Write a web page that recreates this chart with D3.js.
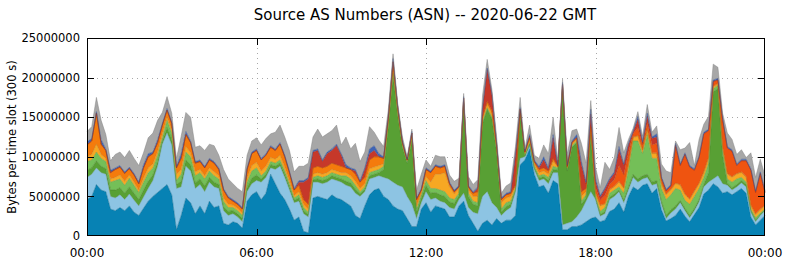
<!DOCTYPE html>
<html><head><meta charset="utf-8">
<script src="https://cdn.jsdelivr.net/npm/d3@7/dist/d3.min.js"></script>
<style>html,body{margin:0;padding:0;background:#fff;}svg{display:block;}</style>
</head><body>
<script>
// sample times (minutes since 00:00 GMT), one every 10 minutes
const times = d3.range(0, 1441, 10);
const xTickLabels = ["00:00","06:00","12:00","18:00","00:00"];
const yTicks = [0, 5000000, 10000000, 15000000, 20000000, 25000000];
const title = "Source AS Numbers (ASN) -- 2020-06-22 GMT";
const yLabel = "Bytes per time slot (300 s)";

// series values in millions of bytes per 300 s slot
const s1 = [4.6,5.0,6.5,5.8,5.6,3.4,3.2,3.6,3.2,3.8, 3.0,2.6,3.5,4.4,5.0,5.5,6.0,6.5,5.2,0.8, 2.6,4.8,4.2,2.8,3.8,2.8,4.4,3.6,3.8,1.6, 1.4,1.8,1.6,1.0,4.4,5.2,5.6,4.6,5.4,7.8, 6.6,5.4,4.6,3.4,2.0,2.4,0.6,0.4,4.8,5.0, 4.8,4.6,5.2,4.8,4.6,4.2,3.8,2.6,2.2,3.8, 5.2,5.8,6.0,5.0,4.6,3.8,3.4,3.2,2.2,1.2, 1.2,3.4,4.2,3.0,3.8,3.6,3.4,2.4,2.4,3.8, 4.4,2.6,1.6,0.6,1.6,2.0,1.4,2.2,1.6,2.0, 2.0,2.6,9.0,9.6,11.0,7.8,6.2,6.4,5.4,7.0, 6.6,0.8,0.8,1.2,1.2,1.4,1.8,2.2,2.4,1.8, 2.0,3.1,3.4,4.2,3.0,5.0,6.2,5.8,6.4,6.6, 5.4,6.0,3.3,1.9,2.2,2.6,3.4,2.5,1.8,2.7, 3.6,5.3,5.8,6.6,6.2,5.4,5.6,5.2,5.6,6.0, 5.4,2.4,1.4,2.0,2.6];
const s2 = [2.8,2.8,2.1,2.2,2.2,1.6,1.6,1.6,1.4,1.5, 1.5,1.2,1.4,1.6,2.0,3.3,5.6,6.5,6.3,5.2, 3.6,4.0,4.0,3.2,2.7,2.8,2.4,2.6,2.2,1.6, 1.2,1.0,0.8,0.8,1.2,1.4,1.4,2.2,2.0,0.8, 1.8,3.4,2.8,2.4,2.2,2.0,2.2,2.0,2.0,1.8, 1.8,2.2,2.0,2.2,2.2,2.2,2.4,2.8,2.8,1.8, 2.0,1.6,1.6,2.4,2.6,3.0,3.0,3.0,2.8,2.8, 1.0,0.8,1.4,1.6,1.0,0.8,0.8,1.2,1.0,0.8, 1.0,1.0,1.4,2.2,3.4,3.6,2.8,1.4,1.0,1.2, 1.6,3.0,0.8,0.4,0.4,0.6,0.8,0.8,1.2,1.0, 1.4,0.6,0.8,0.6,1.2,1.8,2.6,3.4,2.2,0.7, 0.8,1.5,1.6,1.4,1.2,0.8,1.2,1.0,0.8,0.8, 1.0,0.6,0.7,0.3,0.7,0.8,0.8,0.7,0.5,0.5, 0.7,0.9,1.0,0.6,1.4,1.2,0.8,0.6,0.6,0.7, 0.8,0.6,0.4,0.6,0.6];
const s3 = [0.9,0.8,0.9,0.8,0.7,0.8,1.0,0.9,0.8,0.9, 0.9,0.8,0.9,0.9,0.7,0.6,0.4,0.7,0.7,0.5, 0.7,0.8,0.8,0.7,0.7,0.7,0.6,0.6,0.5,0.5, 0.5,0.4,0.4,0.4,0.5,0.7,0.7,0.4,0.4,0.4, 0.4,0.4,0.4,0.4,0.3,0.4,0.4,0.3,0.3,0.4, 0.4,0.4,0.4,0.4,0.4,0.5,0.5,0.5,0.3,0.3, 0.4,0.4,0.4,1.0,6.6,13.6,8.8,5.0,4.2,8.0, 0.8,0.6,0.8,0.8,0.7,0.8,0.8,0.7,0.7,0.5, 11.2,1.4,1.0,1.0,9.2,10.4,10.6,7.0,0.4,0.5, 0.4,0.2,5.6,0.1,0.2,0.2,0.3,0.3,0.4,0.4, 0.3,17.0,6.6,9.4,9.4,0.8,0.4,7.2,0.2,0.2, 0.3,0.3,0.3,0.2,0.3,0.4,0.4,0.4,0.4,0.4, 0.4,0.4,0.4,0.4,0.4,0.4,0.3,0.3,0.3,0.3, 0.3,0.3,1.2,11.0,11.0,3.6,0.3,0.3,0.3,0.3, 0.3,0.2,0.2,0.1,0.1];
const s4 = [1.1,1.0,1.1,1.0,0.9,1.0,1.2,1.1,1.0,1.1, 1.0,0.9,1.0,1.1,0.9,0.8,0.4,0.9,0.8,0.5, 0.9,1.0,1.0,0.9,0.8,0.9,0.8,0.8,0.7,0.7, 0.5,0.4,0.4,0.4,0.7,0.9,0.9,0.4,0.4,0.4, 0.4,0.4,0.4,0.4,0.3,0.4,0.4,0.3,0.3,0.4, 0.4,0.4,0.4,0.4,0.4,0.7,0.5,0.5,0.3,0.3, 0.4,0.4,0.4,0.4,0.2,0.2,0.2,0.2,0.2,0.2, 0.4,0.4,0.6,0.6,0.5,0.6,0.6,0.5,0.5,0.3, 0.2,0.4,0.4,0.4,0.2,0.2,0.2,0.2,0.4,0.5, 0.4,0.2,0.2,0.1,0.2,0.2,0.3,0.3,0.4,0.4, 0.3,0.2,0.2,0.2,0.2,0.4,0.4,0.2,0.2,0.4, 0.5,0.5,0.5,0.4,0.9,2.2,4.2,4.8,2.8,5.0, 3.0,2.8,1.6,2.0,1.9,2.2,1.3,1.0,1.4,1.5, 1.4,0.9,1.2,0.4,0.4,0.6,0.5,0.7,0.7,0.4, 0.3,0.2,0.3,0.2,0.1];
const s5 = [0.6,0.7,1.0,0.5,0.4,0.4,0.4,0.5,0.5,0.4, 0.4,0.3,0.5,0.6,0.5,0.5,0.5,0.4,0.4,0.8, 0.6,0.7,0.5,0.5,0.4,0.4,0.4,0.5,0.4,0.4, 0.4,0.3,0.3,0.3,0.5,0.7,0.7,0.6,0.6,0.5, 0.5,0.6,0.5,0.4,0.3,0.4,0.4,0.4,0.4,0.4, 0.4,0.4,0.4,0.4,0.4,0.4,0.4,0.5,0.4,0.4, 0.5,0.5,0.5,0.3,0.3,0.3,0.2,0.1,0.1,0.2, 0.4,0.2,0.5,0.8,1.8,2.0,2.4,1.4,0.7,0.6, 0.2,0.4,0.6,0.8,0.4,0.4,0.4,0.4,0.8,0.6, 0.6,0.2,0.2,0.2,0.4,0.3,0.4,0.4,0.4,0.6, 0.1,0.3,0.2,0.2,0.2,0.6,0.4,0.4,0.4,0.7, 0.4,0.4,0.4,0.6,0.6,0.6,0.4,0.6,0.4,0.6, 0.6,0.6,0.6,0.6,0.6,0.6,0.6,0.7,0.6,0.6, 0.6,0.6,0.6,0.2,0.2,0.4,0.6,0.6,0.6,0.6, 0.6,0.4,0.4,0.4,0.4];
const s6 = [1.5,1.7,3.9,1.3,1.0,0.8,1.0,1.0,1.0,0.8, 0.9,0.8,1.3,1.4,1.3,1.1,1.1,0.9,0.8,0.8, 1.4,1.5,1.3,1.1,1.0,1.0,1.0,1.1,0.8,1.0, 0.8,0.5,0.5,0.5,1.1,1.5,1.5,1.4,1.4,1.3, 1.1,1.4,1.3,1.0,0.7,0.8,0.6,0.6,0.8,0.8, 0.8,0.8,0.8,0.8,0.8,0.6,0.8,0.9,0.8,0.8, 1.1,1.3,1.1,0.7,0.7,1.1,0.6,0.3,0.1,0.6, 0.8,0.4,0.9,1.2,1.0,0.8,0.8,0.4,0.3,0.2, 0.4,0.4,0.4,0.6,0.2,0.4,0.4,0.2,0.4,0.4, 0.4,0.2,0.2,0.2,0.2,0.3,0.4,0.4,0.4,0.4, 0.1,0.3,0.2,0.2,0.2,0.6,0.4,0.4,0.1,0.1, 0.1,0.1,0.1,0.1,0.1,0.1,0.1,0.1,0.1,0.1, 0.1,0.1,0.1,0.1,0.1,0.1,0.1,0.1,0.1,0.1, 0.1,0.1,0.1,0.1,0.1,0.1,0.1,0.1,0.1,0.1, 0.1,0.1,0.1,0.1,0.1];
const s7 = [0,0,0,0,0,0,0,0,0,0, 0,0,0,0,0,0,0,0,0,0, 0,0,0,0,0,0,0,0,0,0, 0,0,0,0,0,0,0,0,0,0, 0,0,0,0,0,0,0,0,0,0, 0,0,0,0,0,0,0,0,0,0, 0,0,0,0,0,0,0,0,0,0, 0,0,0,0,0,0,0,0,0,0, 0,0,0,0,0,0,0,0,0,0, 0,0,0,0,0,0,0,0,0,0, 0,0,0,0,0,0,0,0,0.6,0.6, 1.0,0.6,0.8,2.0,1.6,1.4,0.4,1.0,0.6,0.8, 1.0,1.2,0.6,0.4,0.4,4.6,2.4,5.0,4.0,2.6, 3.2,4.8,3.4,0.6,0.4,3.4,3.2,3.2,1.0,1.4, 2.0,4.4,2.7,4.5,1.6];
const s8 = [0,0,0,0,0,0,0,0,0,0, 0,0,0,0,0,0,0,0,0,0, 0,0,0,0,0,0,0,0,0,0, 0,0,0,0,0,0,0,0,0,0, 0,0,0,0,0,0.4,2.2,3.2,2.0,2.0, 0.8,1.6,1.6,2.4,1.4,0,0,0.4,0,1.0, 0.8,0.8,0,0,0,0,0,0,0,0, 0,0,0,0,0,0,0,0,0,0, 0,0,0,0.4,1.0,4.0,2.0,0.2,0,0, 0,3.8,0,0,0.2,0,0.2,1.0,0.2,2.6, 0,0,0,0,0,3.4,0.6,1.6,0.8,0.4, 0.8,0.6,0.8,2.0,1.2,1.0,0.2,1.0,0.2,0.8, 0.8,0.8,0,0,0,0.2,0,0,0,0, 0,0,0,0,0,0,0,0,0,0, 0,0,0,0,0];
const s9 = [0.4,0.3,0.2,0.6,0.2,0.3,0.2,0.2,0.2,0.2, 0.2,0.2,0.4,0.4,0.2,0.4,0.2,0.2,0.2,0.2, 0.6,0.4,0.2,0.2,0.2,0.2,0.2,0.2,0.2,0.2, 0.2,0.2,0.2,0.2,0.2,0.2,0.2,0.2,0.2,0.2, 0.2,0.2,0.2,0.2,0.2,0.2,0.2,0.2,0.2,0.2, 0.2,0.2,0.2,0.2,0.2,0.4,0.2,0.2,0.2,0.2, 0.6,0.6,0.4,0.2,0.2,0.4,0.2,0.2,0.1,0.2, 0.2,0.2,0.2,0.2,0.2,0.2,0.2,0.2,0.2,0.2, 0.2,0.2,0.2,0.2,0.2,0.2,0.2,0.2,0.2,0.2, 0.2,0.2,0.2,0.2,0.2,0.2,0.2,0.4,0.2,0.4, 0.2,0.2,0.2,0.2,0.4,0.4,0.2,0.6,0.4,0.2, 0.2,0.2,0.2,0.4,0.2,0.2,0.2,0.4,0.2,0.4, 0.2,0.4,0.2,0.2,0.2,0.2,0.2,0.2,0.2,0.2, 0.2,0.2,0.2,0.2,0.2,0.2,0.2,0.2,0.2,0.2, 0.2,0.2,0.2,0.2,0.2];
const s10 = [1.3,1.5,1.8,2.4,1.8,1.2,1.7,1.7,1.8,2.1, 1.9,2.1,1.5,2.0,2.4,2.4,1.4,1.5,1.1,1.0, 2.2,2.4,3.0,1.8,1.8,2.0,1.8,2.0,1.6,2.4, 2.2,2.0,1.8,2.0,1.6,1.4,1.4,1.7,1.9,1.5, 2.1,2.2,2.3,2.6,2.1,1.8,1.8,1.8,1.7,2.5, 2.9,2.3,2.3,2.4,1.1,3.5,2.4,3.3,2.4,2.0, 2.8,1.7,1.7,1.3,0.8,0.6,0.3,0.5,0.3,0.3, 1.0,1.8,1.0,0.6,1.2,1.2,1.0,0.9,1.1,0.9, 0.4,1.1,0.9,0.9,1.5,1.1,0.5,0.7,0.6,0.9, 1.1,0.9,1.3,0.2,1.2,0.6,1.0,1.5,1.8,2.2, 0.6,0.4,1.4,1.3,0.7,2.3,2.4,1.1,1.4,1.0, 3.2,1.1,1.8,2.4,1.4,0.5,0.3,0.6,0.7,1.1, 0.6,1.0,1.6,2.3,1.5,0.3,1.8,0.6,2.9,0.4, 2.1,1.0,1.6,2.0,1.4,0.6,1.7,1.3,1.2,1.2, 0.2,2.0,1.7,1.6,1.9];

const seriesList = [s1,s2,s3,s4,s5,s6,s7,s8,s9,s10];
const colors = ["#0782b4","#8dc4e3","#58a034","#74bf58","#f7a823","#f47b0c","#ef5410","#c6382a","#3f64b5","#a7a7a7"];

const W = 786, H = 261;
const M = {l: 87, r: 765, t: 38, b: 236};
const svg = d3.select("body").append("svg").attr("width", W).attr("height", H);
svg.append("rect").attr("width", W).attr("height", H).attr("fill", "#fff");

const x = d3.scaleLinear().domain([0, 1440]).range([M.l, M.r]);
const y = d3.scaleLinear().domain([0, 25000000]).range([M.b, M.t]);

const rows = times.map((t, i) => {
  const r = {t};
  seriesList.forEach((s, k) => r["k" + k] = s[i] * 1e6);
  return r;
});
const keys = seriesList.map((s, k) => "k" + k);
const stacked = d3.stack().keys(keys)(rows);

const font = "DejaVu Sans, sans-serif";

// grid
const grid = svg.append("g").attr("stroke", "#a8a8a8").attr("stroke-width", 1).attr("stroke-dasharray", "1,4");
yTicks.slice(1, -1).forEach(v => grid.append("line").attr("x1", M.l).attr("x2", M.r).attr("y1", Math.round(y(v)) + 0.5).attr("y2", Math.round(y(v)) + 0.5));
[360, 720, 1080].forEach(v => grid.append("line").attr("y1", M.t).attr("y2", M.b).attr("x1", Math.round(x(v)) + 0.5).attr("x2", Math.round(x(v)) + 0.5));

// areas
const area = d3.area().x(d => x(d.data.t)).y0(d => y(d[0])).y1(d => y(d[1]));
const line = d3.line().x(d => x(d.data.t)).y(d => y(d[1]));
svg.append("g").selectAll("path.a").data(stacked).join("path")
  .attr("d", area).attr("fill", (d, i) => colors[i]);
svg.append("g").selectAll("path.l").data(stacked).join("path")
  .attr("d", line).attr("fill", "none")
  .attr("stroke", (d, i) => d3.color(colors[i]).darker(0.7)).attr("stroke-width", 0.6).attr("stroke-opacity", 0.8);

// frame
svg.append("rect").attr("x", M.l + 0.5).attr("y", M.t + 0.5).attr("width", M.r - M.l - 1).attr("height", M.b - M.t - 1)
  .attr("fill", "none").attr("stroke", "#000").attr("stroke-width", 1);

// ticks
const tk = svg.append("g").attr("stroke", "#000").attr("stroke-width", 1);
yTicks.slice(1, -1).forEach(v => {
  const yy = Math.round(y(v)) + 0.5;
  tk.append("line").attr("x1", M.l).attr("x2", M.l + 7).attr("y1", yy).attr("y2", yy);
  tk.append("line").attr("x1", M.r - 7).attr("x2", M.r).attr("y1", yy).attr("y2", yy);
});
[360, 720, 1080].forEach(v => {
  const xx = Math.round(x(v)) + 0.5;
  tk.append("line").attr("x1", xx).attr("x2", xx).attr("y1", M.b).attr("y2", M.b - 7);
  tk.append("line").attr("x1", xx).attr("x2", xx).attr("y1", M.t).attr("y2", M.t + 7);
});

// y tick labels
svg.append("g").selectAll("text").data(yTicks).join("text")
  .attr("x", 80).attr("y", d => y(d)).attr("dy", "0.36em")
  .attr("text-anchor", "end").attr("font-family", font).attr("font-size", 11.5).attr("fill", "#000")
  .text(d => d3.format("d")(d));

// x tick labels
svg.append("g").selectAll("text").data(xTickLabels).join("text")
  .attr("x", (d, i) => x(i * 360)).attr("y", 257)
  .attr("text-anchor", "middle").attr("font-family", font).attr("font-size", 12).attr("fill", "#000")
  .text(d => d);

// title
svg.append("text").attr("x", 425).attr("y", 20).attr("text-anchor", "middle")
  .attr("font-family", font).attr("font-size", 15).attr("fill", "#000").text(title);

// y label
svg.append("text").attr("transform", `translate(16,${(M.t + M.b) / 2}) rotate(-90)`)
  .attr("text-anchor", "middle").attr("font-family", font).attr("font-size", 11.5).attr("fill", "#000").text(yLabel);
</script>
</body></html>
